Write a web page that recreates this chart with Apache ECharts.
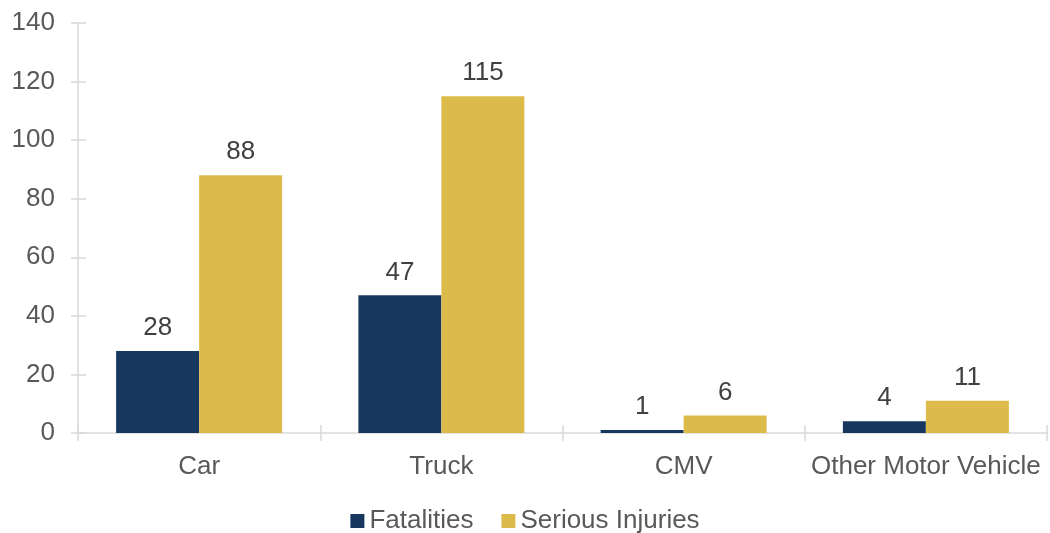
<!DOCTYPE html>
<html>
<head>
<meta charset="utf-8">
<script src="https://cdn.jsdelivr.net/npm/echarts@6/dist/echarts.min.js"></script>
<style>html,body{margin:0;padding:0;background:#fff;}#c{width:1050px;height:533px;}</style>
</head>
<body>
<div id="c"></div>
<script>
var categories = ['Car', 'Truck', 'CMV', 'Other Motor Vehicle'];
var fatalities = [28, 47, 1, 4];
var seriousInjuries = [88, 115, 6, 11];
var seriesNames = ['Fatalities', 'Serious Injuries'];

var FONT = '"Liberation Sans", Arial, sans-serif';
var axisCol = '#D9D9D9';
var chart = echarts.init(document.getElementById('c'));
chart.setOption({
  animation: false,
  textStyle: { fontFamily: FONT },
  legend: {
    top: 503, left: 'center',
    itemWidth: 14, itemHeight: 14, itemGap: 28,
    icon: 'rect',
    textStyle: { fontFamily: FONT, fontSize: 26, color: '#595959', padding: [0,0,0,0] },
    data: seriesNames
  },
  grid: { left: 78, right: 3, top: 23, bottom: 100, containLabel: false },
  xAxis: [{
    type: 'category', data: categories,
    axisLine: { lineStyle: { color: axisCol, width: 1.5 } },
    axisTick: { show: true, length: 8, lineStyle: { color: axisCol, width: 1.5 } },
    axisLabel: { fontFamily: FONT, fontSize: 26, color: '#595959', margin: 21, interval: 0 },
    splitLine: { show: false }
  }, {
    type: 'category', data: categories, position: 'bottom',
    axisLine: { show: false },
    axisTick: { show: true, inside: true, length: 8, lineStyle: { color: axisCol, width: 1.5 } },
    axisLabel: { show: false },
    splitLine: { show: false }
  }],
  yAxis: [{
    type: 'value', min: 0, max: 140, interval: 20,
    axisLine: { show: true, lineStyle: { color: axisCol, width: 1.5 } },
    axisTick: { show: true, length: 7, lineStyle: { color: axisCol, width: 1.5 } },
    axisLabel: { fontFamily: FONT, fontSize: 26, color: '#595959', margin: 23 },
    splitLine: { show: false }
  }, {
    type: 'value', min: 0, max: 140, interval: 20, position: 'left',
    axisLine: { show: false },
    axisTick: { show: true, inside: true, length: 8, lineStyle: { color: axisCol, width: 1.5 } },
    axisLabel: { show: false },
    splitLine: { show: false }
  }],
  series: [{
    name: seriesNames[0], type: 'bar', data: fatalities,
    xAxisIndex: 0, yAxisIndex: 0,
    barWidth: 83, barGap: '0%',
    itemStyle: { color: '#17375E' },
    label: { show: true, position: 'top', distance: 10, fontFamily: FONT, fontSize: 26, color: '#404040' }
  }, {
    name: seriesNames[1], type: 'bar', data: seriousInjuries,
    xAxisIndex: 0, yAxisIndex: 0,
    barWidth: 83, barGap: '0%',
    itemStyle: { color: '#DDBB4A' },
    label: { show: true, position: 'top', distance: 10, fontFamily: FONT, fontSize: 26, color: '#404040' }
  }]
});
</script>
</body>
</html>
